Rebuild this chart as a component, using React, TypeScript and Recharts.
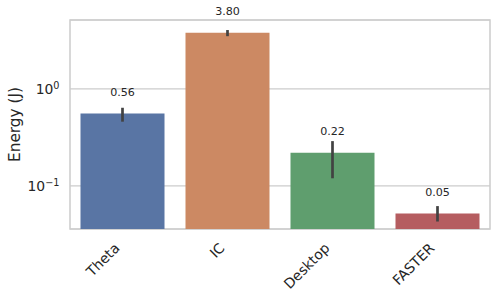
import React from 'react';
import { BarChart, Bar, XAxis, YAxis, CartesianGrid, ErrorBar, LabelList, Cell, ReferenceArea } from 'recharts';

const categories = ['Theta', 'IC', 'Desktop', 'FASTER'];
const means = [0.56, 3.8, 0.22, 0.052];
const lows = [0.46, 3.5, 0.12, 0.043];
const highs = [0.64, 4.05, 0.29, 0.062];
const colors = ['#5975a4', '#cc8963', '#5f9e6e', '#b55d60'];
const yTicks = [0.1, 1];
const yTickLabels = [['10', '\u22121'], ['10', '0']];
const yDomain = [0.036, 5.14];

const data = categories.map((c, i) => ({
  name: c,
  value: means[i],
  err: [means[i] - lows[i], highs[i] - means[i]],
}));

const FONT = 'DejaVu Sans';
const TEXT = '#262626';

const XTick = (props: any) => {
  const { x, y, payload } = props;
  return (
    <g transform={`translate(${x - 2},${y + 20})`}>
      <text transform="rotate(-45)" textAnchor="end" fontFamily={FONT} fontSize={14} fill={TEXT}>
        {payload.value}
      </text>
    </g>
  );
};

const YTick = (props: any) => {
  const { y, payload } = props;
  const idx = yTicks.indexOf(payload.value);
  const lab = yTickLabels[idx] || [String(payload.value), ''];
  return (
    <text x={59.5} y={y + 5} textAnchor="end" fontFamily={FONT} fontSize={13.9} fill={TEXT}>
      <tspan>{lab[0]}</tspan>
      <tspan dy={-4.5} fontSize={9.7}>{lab[1]}</tspan>
    </text>
  );
};

const ValueLabel = (props: any) => {
  const { x, y, width, value } = props;
  return (
    <text x={x + width / 2} y={y - 21} textAnchor="middle" dominantBaseline="central" fontFamily={FONT} fontSize={11.1} fill={TEXT}>
      {Number(value).toFixed(2)}
    </text>
  );
};

export default function App() {
  return (
    <div style={{ position: 'absolute', left: 0, top: 0, width: 498, height: 298, background: '#fff' }}>
      <BarChart width={498} height={298} data={data} margin={{ top: 20, right: 8, left: 0, bottom: 0 }} barCategoryGap="10%">
        <CartesianGrid vertical={false} stroke="#cccccc" strokeWidth={1.2} />
        <XAxis dataKey="name" height={69} tickLine={false} axisLine={false} tickSize={0} tickMargin={0} tick={<XTick />} interval={0} />
        <YAxis
          scale="log"
          type="number"
          domain={yDomain}
          allowDataOverflow
          ticks={yTicks}
          width={70}
          tickLine={false}
          axisLine={false}
          tick={<YTick />}
          label={{
            content: () => (
              <text x={15} y={124.5} transform="rotate(-90 15 124.5)" textAnchor="middle" dominantBaseline="central" fontFamily={FONT} fontSize={15.3} fill={TEXT}>
                Energy (J)
              </text>
            ),
          }}
        />
        <ReferenceArea y1={yDomain[0]} y2={yDomain[1]} fill="none" stroke="#cccccc" strokeWidth={1.5} ifOverflow="visible" />
        <Bar dataKey="value" isAnimationActive={false}>
          {data.map((d, i) => (
            <Cell key={d.name} fill={colors[i]} />
          ))}
          <ErrorBar dataKey="err" width={0} stroke="#424242" strokeWidth={2.7} direction="y" />
          <LabelList dataKey="value" content={<ValueLabel />} />
        </Bar>
      </BarChart>
    </div>
  );
}
